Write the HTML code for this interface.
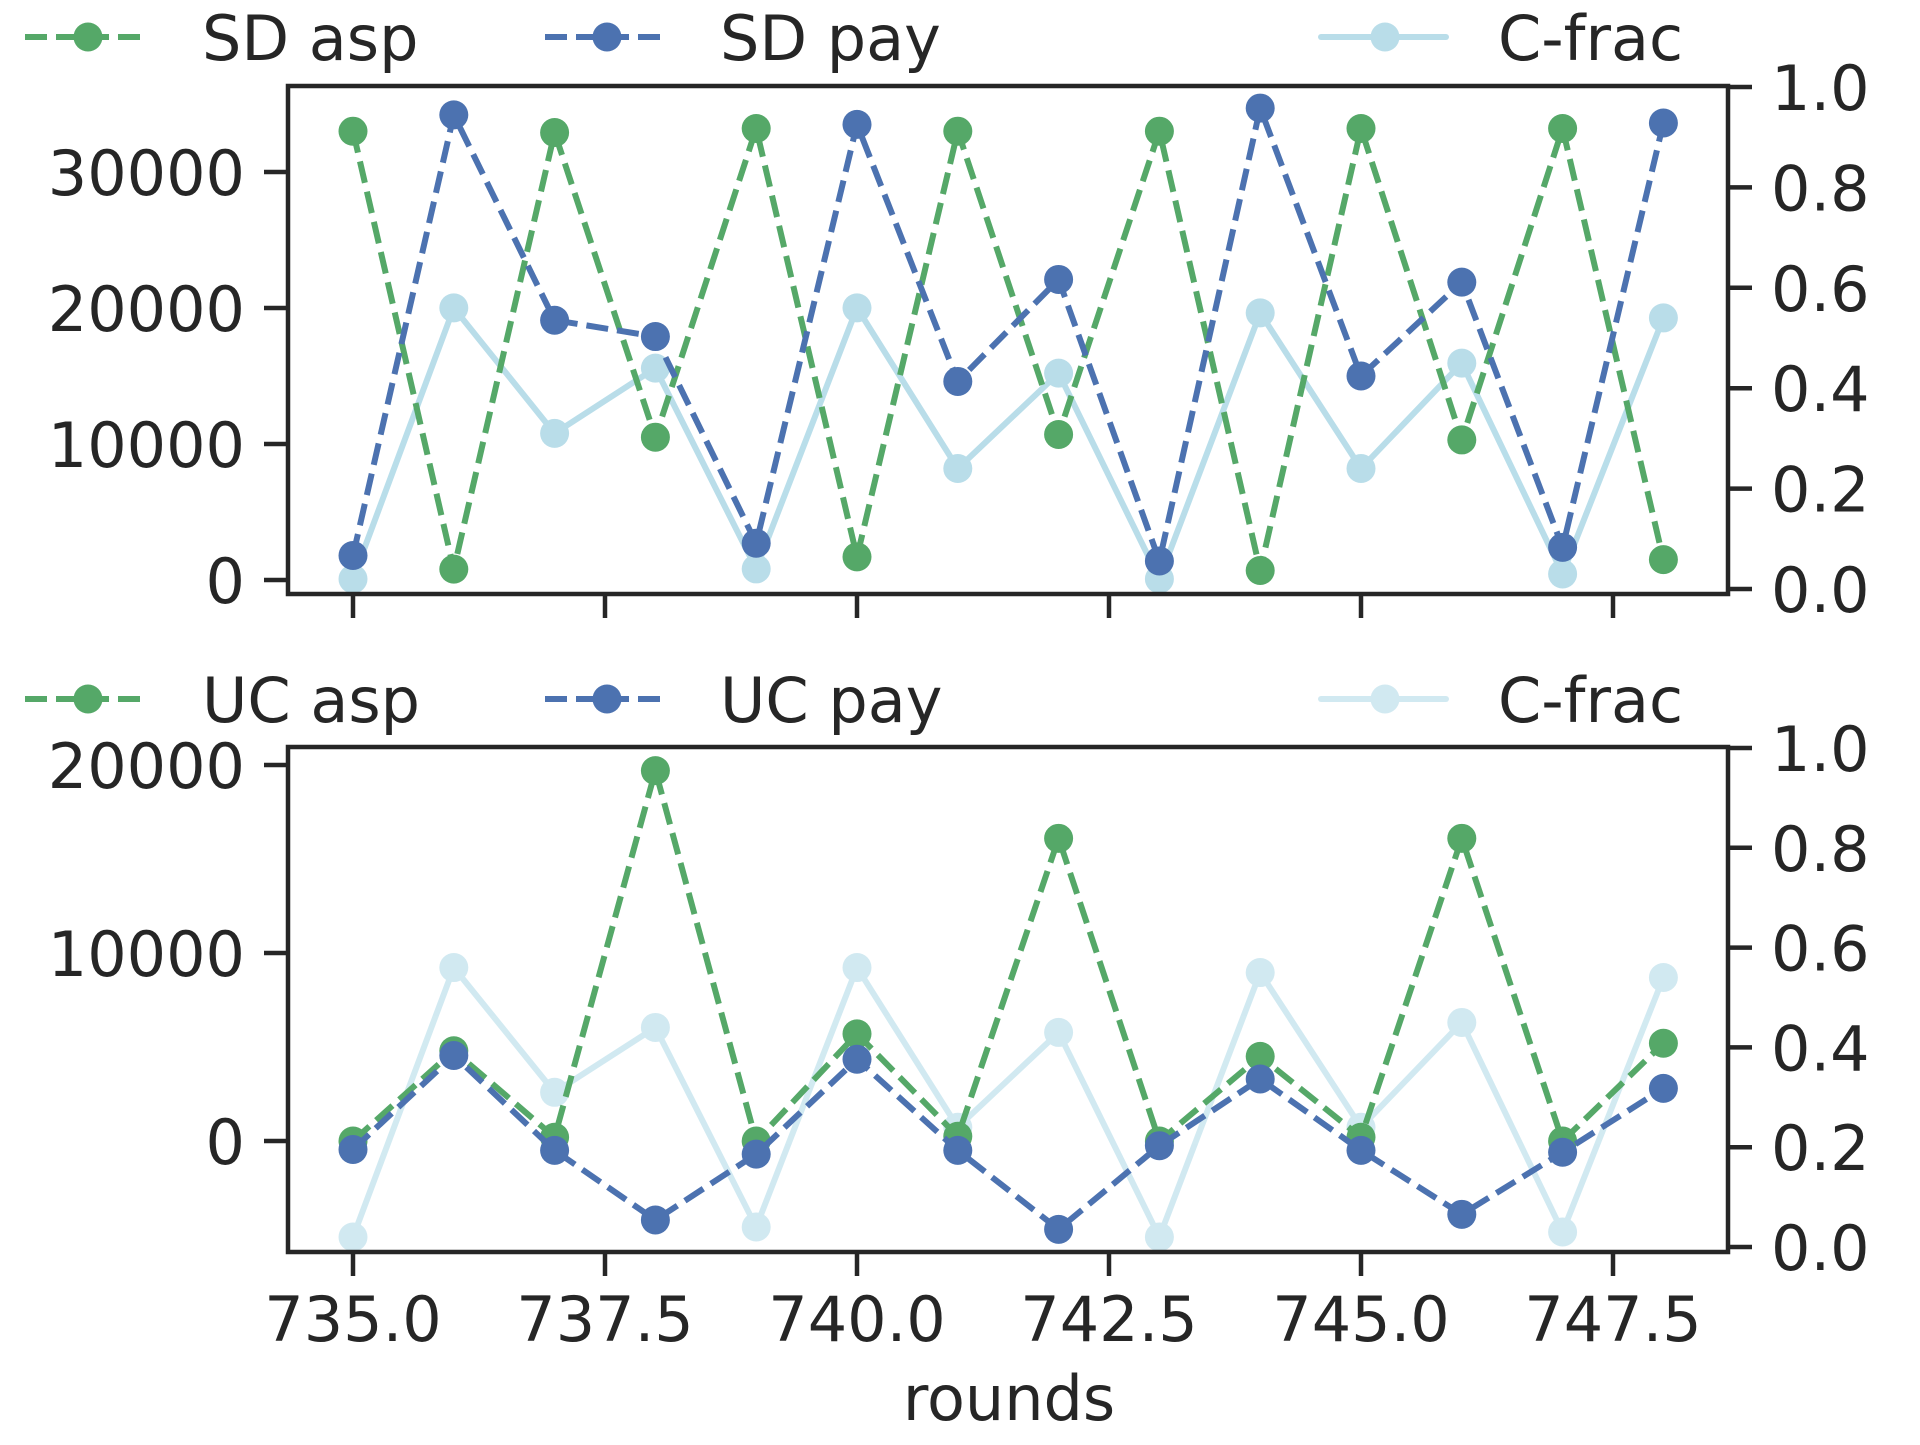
<!DOCTYPE html>
<html><head><meta charset="utf-8"><style>
html,body{margin:0;padding:0;background:#fff;}
svg text{font-family:"DejaVu Sans","Liberation Sans",sans-serif;fill:#262626;}
</style></head><body>
<svg id="chart" width="1920" height="1440" viewBox="0 0 1920 1440" xmlns="http://www.w3.org/2000/svg"></svg>
<script>
const rounds = [735,736,737,738,739,740,741,742,743,744,745,746,747,748];
const sdAsp = [33000,800,32900,10500,33200,1700,33000,10700,33000,700,33200,10300,33200,1500];
const sdPay = [1800,34200,19100,17900,2700,33500,14600,22100,1400,34700,15000,21900,2400,33600];
const cFrac = [0.02,0.56,0.31,0.44,0.04,0.56,0.24,0.43,0.02,0.55,0.24,0.45,0.03,0.54];
const ucAsp = [0,4800,200,19700,0,5700,250,16100,0,4500,200,16100,0,5200];
const ucPay = [-450,4550,-500,-4200,-700,4350,-500,-4700,-250,3300,-500,-3900,-600,2800];
const xTicks = [735.0,737.5,740.0,742.5,745.0,747.5];
const xTickLabels = ["735.0","737.5","740.0","742.5","745.0","747.5"];
const sdTicks = [0,10000,20000,30000];
const ucTicks = [0,10000,20000];
const rTicks = [0,0.2,0.4,0.6,0.8,1.0];

const svg = document.getElementById('chart');
const NS = 'http://www.w3.org/2000/svg';
function mk(tag, attrs, parent){const e=document.createElementNS(NS,tag);for(const k in attrs)e.setAttribute(k,attrs[k]);(parent||svg).appendChild(e);return e;}
const L=288,R=1728,FS=62,TL=24,GAP=19,SW=4.5,LW=6,MR=14.5;
const xs = v => 353 + (v-735)*100.8;
const GREEN='#55a868',BLUE='#4c72b0',LB='#add8e6';

function panel(name, top, bottom, yL, leftTicks, a, p, aName, pName, cAlpha, showX){
  const yR = v => bottom-5 - v*(bottom-5-top-1);
  leftTicks.forEach(t=>{
    const y=yL(t);
    const tk=mk('line',{x1:L-TL,x2:L,y1:y,y2:y,stroke:'#262626','stroke-width':SW});
    
    
    const tx=mk('text',{x:L-TL-GAP,y:y+23,'text-anchor':'end','font-size':FS});
    tx.textContent=String(t);
    
    
  });
  rTicks.forEach(t=>{
    const y=yR(t);
    const tk=mk('line',{x1:R,x2:R+TL,y1:y,y2:y,stroke:'#262626','stroke-width':SW});
    
    
    const tx=mk('text',{x:R+TL+GAP,y:y+23,'font-size':FS});
    tx.textContent=t.toFixed(1);
    
    
  });
  xTicks.forEach((t,i)=>{
    const x=xs(t);
    const tk=mk('line',{x1:x,x2:x,y1:bottom,y2:bottom+TL,stroke:'#262626','stroke-width':SW});
    
    
    if(showX){
      const tx=mk('text',{x:x,y:bottom+TL+GAP+46,'text-anchor':'middle','font-size':FS});
      tx.textContent=xTickLabels[i];
      
      
    }
  });
  function series(vals, yf, color, dash, alpha, sname){
    const g=mk('g',{opacity:alpha});
    
    
    const pts=vals.map((v,i)=>xs(rounds[i])+','+yf(v)).join(' ');
    const pl=mk('polyline',{points:pts,fill:'none',stroke:color,'stroke-width':LW,'stroke-dasharray':dash||'none','stroke-linejoin':'round'},g);
    
    
    vals.forEach((v,i)=>{
      const c=mk('circle',{cx:xs(rounds[i]),cy:yf(v),r:MR,fill:color},g);
      
      
    });
  }
  series(cFrac, yR, LB, null, cAlpha, 'c-frac');
  series(a, yL, GREEN, '22,9', 1, aName);
  series(p, yL, BLUE, '22,9', 1, pName);
  const fr=mk('rect',{x:L,y:top,width:R-L,height:bottom-top,fill:'none',stroke:'#262626','stroke-width':SW});
  
  
}

function legend(name, y, labels, cAlpha){
  const items=[[25,147,88,202,GREEN,'22,9',1],[545,668,607,720,BLUE,'22,9',1],[1321,1446,1385,1498,LB,null,cAlpha]];
  items.forEach((it,i)=>{
    const g=mk('g',{opacity:it[6]});
    
    
    mk('line',{x1:it[0],x2:it[1],y1:y,y2:y,stroke:it[4],'stroke-width':LW,'stroke-dasharray':it[5]||'none','stroke-linecap':it[5]?'butt':'round'},g);
    mk('circle',{cx:it[2],cy:y,r:MR,fill:it[4]},g);
    const t=mk('text',{x:it[3],y:y+23,'font-size':FS});
    t.textContent=labels[i];
    
    
  });
}

const ySD = v => 580 - v*136/10000;
const yUC = v => 1141 - v*188/10000;
panel('top-panel',86,594,ySD,sdTicks,sdAsp,sdPay,'sd-asp','sd-pay',0.85,false);
panel('bottom-panel',747,1252,yUC,ucTicks,ucAsp,ucPay,'uc-asp','uc-pay',0.55,true);
legend('top',37,['SD asp','SD pay','C-frac'],0.85);
legend('bottom',699,['UC asp','UC pay','C-frac'],0.55);
const xl=mk('text',{x:1009,y:1420,'text-anchor':'middle','font-size':FS});
xl.textContent='rounds';


</script>
</body></html>
